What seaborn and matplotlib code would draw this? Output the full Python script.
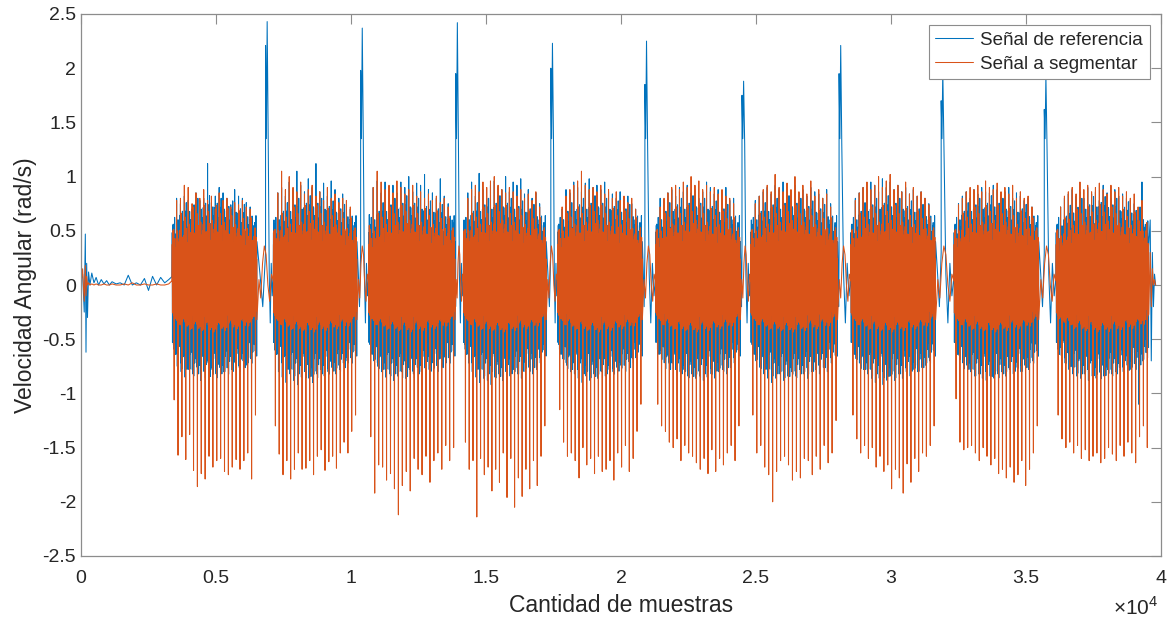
import numpy as np
import pandas as pd
import seaborn as sns
import matplotlib
matplotlib.use("Agg")
import matplotlib.pyplot as plt
from matplotlib.ticker import FuncFormatter, MultipleLocator

# burst limits and the spikes of the reference signal between bursts (samples)
burst_start = [3370, 7120, 10650, 14160, 17650, 21280, 24800, 28510, 32330, 36110]
burst_end = [6525, 10230, 13865, 17240, 20800, 24430, 28030, 31660, 35480, 39555]
spike_x = [6895, 10417, 13939, 17461, 20945, 24541, 28137, 31918, 35737]
spike_peak = [2.43, 2.37, 2.42, 2.23, 2.25, 1.88, 2.21, 1.98, 1.93]
spike_shoulder = [2.21, 1.98, 1.95, 2.0, 1.85, 1.75, 1.95, 1.70, 1.62]

# per cycle extremes of "Señal a segmentar" (orange)
orange_low = [
    [-1.06, -1.57, -1.40, -1.61, -1.38, -1.71, -1.86, -1.74, -1.79, -1.58, -1.68, -1.62, -1.60, -1.72, -1.75, -1.68, -1.61, -1.70, -1.62, -1.55, -1.79, -1.20],
    [-1.30, -1.56, -1.75, -1.62, -1.79, -1.70, -1.55, -1.70, -1.69, -1.62, -1.75, -1.58, -1.52, -1.71, -1.63, -1.58, -1.69, -1.55, -1.45, -1.55, -1.35, -1.20],
    [-1.40, -1.92, -1.66, -1.68, -1.80, -1.74, -1.88, -2.12, -1.85, -1.72, -1.90, -1.60, -1.70, -1.75, -1.58, -1.82, -1.62, -1.55, -1.70, -1.48, -1.62, -1.50],
    [-1.45, -1.70, -1.62, -2.14, -1.60, -1.75, -1.68, -1.90, -1.70, -1.82, -1.55, -1.96, -1.60, -2.05, -1.78, -1.95, -1.70, -1.88, -1.62, -1.85, -1.58, -1.30],
    [-1.15, -1.45, -1.58, -1.55, -1.62, -1.78, -1.50, -1.66, -1.60, -1.74, -1.58, -1.72, -1.70, -1.62, -1.80, -1.55, -1.68, -1.48, -1.72, -1.60, -1.35, -1.10],
    [-1.10, -1.30, -1.35, -1.45, -1.50, -1.42, -1.62, -1.48, -1.55, -1.58, -1.64, -1.70, -1.60, -1.74, -1.52, -1.72, -1.60, -1.66, -1.55, -1.48, -1.62, -1.30],
    [-1.20, -1.55, -1.48, -1.68, -1.75, -2.00, -1.72, -1.62, -1.58, -1.66, -1.80, -1.72, -1.78, -1.60, -1.62, -1.75, -1.58, -1.70, -1.48, -1.64, -1.55, -1.25],
    [-1.20, -1.42, -1.55, -1.48, -1.60, -1.50, -1.68, -1.58, -1.72, -1.66, -1.88, -1.70, -1.78, -1.92, -1.65, -1.82, -1.60, -1.72, -1.55, -1.58, -1.48, -1.30],
    [-1.05, -1.45, -1.52, -1.50, -1.48, -1.55, -1.62, -1.50, -1.58, -1.66, -1.60, -1.74, -1.70, -1.78, -1.68, -1.82, -1.75, -1.62, -1.85, -1.70, -1.55, -1.30],
    [-1.20, -1.42, -1.50, -1.45, -1.55, -1.48, -1.60, -1.52, -1.62, -1.58, -1.55, -1.64, -1.60, -1.50, -1.56, -1.62, -1.48, -1.58, -1.45, -1.55, -1.64, -1.40, -1.30, -1.50],
]
orange_high = [
    [0.50, 0.78, 0.80, 0.92, 0.90, 0.75, 0.85, 0.80, 0.88, 0.78, 0.82, 0.70, 0.85, 0.78, 0.80, 0.72, 0.76, 0.74, 0.78, 0.72, 0.70, 0.45],
    [0.50, 0.85, 1.05, 0.88, 1.00, 0.90, 0.86, 0.95, 0.84, 0.88, 0.92, 0.82, 0.86, 0.78, 0.90, 0.80, 0.84, 0.76, 0.80, 0.78, 0.72, 0.50],
    [0.55, 0.90, 1.05, 0.95, 0.88, 0.92, 0.85, 0.96, 0.90, 0.84, 0.88, 0.92, 0.82, 0.86, 0.80, 0.84, 0.78, 0.82, 0.76, 0.80, 0.72, 0.50],
    [0.50, 0.80, 0.88, 0.92, 0.86, 0.95, 0.90, 0.96, 1.00, 0.92, 0.88, 0.85, 0.90, 0.86, 0.82, 0.88, 0.80, 0.84, 0.78, 0.86, 0.72, 0.50],
    [0.50, 0.72, 0.82, 0.88, 0.92, 0.96, 1.05, 0.92, 0.88, 0.90, 0.86, 0.92, 0.84, 0.88, 0.80, 0.86, 0.78, 0.82, 0.76, 0.80, 0.70, 0.50],
    [0.50, 0.72, 0.80, 0.85, 0.90, 0.92, 0.88, 0.95, 0.90, 1.00, 0.92, 0.96, 0.88, 0.92, 0.86, 0.90, 0.84, 0.88, 0.82, 0.80, 0.75, 0.50],
    [0.50, 0.75, 0.82, 0.88, 0.92, 0.86, 1.02, 0.90, 0.86, 0.94, 0.88, 1.00, 0.86, 0.92, 0.84, 0.96, 0.82, 0.88, 0.80, 0.84, 0.72, 0.50],
    [0.50, 0.78, 0.85, 0.90, 0.95, 0.88, 0.92, 1.00, 0.90, 0.96, 1.02, 0.88, 0.92, 0.86, 0.95, 0.84, 0.90, 0.82, 0.86, 0.80, 0.74, 0.50],
    [0.50, 0.74, 0.80, 0.86, 0.90, 0.88, 0.92, 0.86, 0.96, 0.90, 0.88, 0.94, 0.86, 0.90, 0.84, 0.92, 0.80, 0.86, 0.80, 0.82, 0.72, 0.50],
    [0.50, 0.72, 0.82, 0.86, 0.90, 0.84, 0.95, 0.88, 0.92, 0.86, 0.90, 0.94, 0.88, 0.84, 0.92, 0.86, 0.90, 0.82, 0.86, 0.80, 0.84, 0.72, 0.78, 0.50],
]

# per cycle extremes of "Señal de referencia" (blue)
blue_high = [
    [0.55, 0.80, 0.75, 0.82, 0.78, 0.70, 0.85, 0.78, 0.80, 1.12, 0.76, 0.82, 0.90, 0.85, 0.80, 0.74, 0.88, 0.82, 0.80, 0.76, 0.72, 0.55],
    [0.60, 0.85, 0.90, 0.82, 0.95, 0.88, 1.05, 0.92, 0.86, 0.98, 0.90, 1.12, 0.86, 0.94, 0.82, 0.96, 0.88, 0.80, 0.84, 0.78, 0.70, 0.55],
    [0.65, 0.90, 0.96, 0.85, 0.95, 0.88, 0.92, 0.85, 0.95, 0.90, 1.00, 0.86, 0.94, 0.92, 1.02, 0.88, 0.85, 0.80, 0.98, 0.82, 0.75, 0.60],
    [0.60, 0.85, 0.95, 0.82, 1.03, 0.88, 0.80, 0.92, 0.96, 0.90, 0.88, 1.00, 0.86, 0.95, 0.92, 0.98, 0.84, 0.88, 0.80, 0.85, 0.75, 0.55],
    [0.55, 0.70, 0.88, 0.85, 0.95, 0.90, 0.86, 0.94, 0.98, 0.90, 0.92, 0.88, 0.95, 0.86, 0.84, 0.80, 0.86, 0.78, 0.82, 0.75, 0.70, 0.55],
    [0.55, 0.80, 0.78, 0.85, 0.88, 0.82, 0.90, 0.86, 0.92, 0.85, 0.88, 0.80, 0.86, 0.95, 0.90, 0.84, 0.88, 0.82, 0.90, 0.78, 0.80, 0.55],
    [0.60, 0.78, 0.82, 0.86, 0.90, 0.84, 0.92, 0.88, 0.95, 0.90, 0.86, 0.92, 0.85, 0.88, 0.82, 0.90, 0.86, 0.84, 0.80, 0.88, 0.75, 0.55],
    [0.55, 0.80, 0.85, 0.90, 0.88, 0.95, 0.92, 0.86, 0.98, 0.90, 0.95, 0.88, 0.92, 0.86, 0.90, 0.84, 0.88, 0.82, 0.86, 0.80, 0.75, 0.55],
    [0.55, 0.75, 0.82, 0.86, 0.80, 0.88, 0.84, 0.90, 0.86, 0.85, 0.92, 0.88, 0.82, 0.86, 0.90, 0.80, 0.85, 0.82, 0.78, 0.80, 0.72, 0.55],
    [0.55, 0.72, 0.80, 0.84, 0.88, 0.82, 0.86, 0.80, 0.90, 0.84, 0.86, 0.78, 0.92, 0.85, 0.80, 0.88, 0.82, 0.84, 0.80, 0.78, 0.75, 0.60, 0.95, 0.55],
]
blue_low = [
    [-0.55, -0.75, -0.80, -0.85, -0.78, -0.82, -0.75, -0.88, -0.80, -0.72, -0.78, -0.82, -0.76, -0.80, -0.74, -0.78, -0.72, -0.76, -0.70, -0.74, -0.68, -0.55],
    [-0.60, -0.80, -0.85, -0.90, -0.82, -0.88, -0.92, -0.85, -0.80, -0.86, -0.90, -0.82, -0.78, -0.84, -0.80, -0.76, -0.82, -0.78, -0.72, -0.70, -0.65, -0.55],
    [-0.55, -0.70, -0.75, -0.80, -0.85, -0.82, -0.88, -0.84, -0.80, -0.86, -0.78, -0.82, -0.76, -0.80, -0.74, -0.78, -0.72, -0.70, -0.68, -0.66, -0.62, -0.55],
    [-0.55, -0.72, -0.80, -0.85, -0.90, -0.86, -0.88, -0.92, -0.85, -0.82, -0.88, -0.80, -0.84, -0.78, -0.82, -0.86, -0.80, -0.76, -0.82, -0.78, -0.72, -0.60],
    [-0.55, -0.68, -0.74, -0.80, -0.82, -0.86, -0.90, -0.84, -0.88, -0.82, -0.86, -0.80, -0.84, -0.78, -0.80, -0.76, -0.74, -0.72, -0.70, -0.68, -0.65, -0.55],
    [-0.50, -0.60, -0.65, -0.70, -0.72, -0.76, -0.80, -0.78, -0.84, -0.82, -0.86, -0.84, -0.88, -0.85, -0.82, -0.86, -0.80, -0.78, -0.82, -0.76, -0.72, -0.60],
    [-0.55, -0.70, -0.76, -0.82, -0.86, -0.90, -0.86, -0.82, -0.88, -0.84, -0.80, -0.84, -0.78, -0.82, -0.86, -0.80, -0.78, -0.82, -0.76, -0.80, -0.72, -0.65],
    [-0.50, -0.68, -0.72, -0.78, -0.82, -0.86, -0.90, -0.86, -0.92, -0.88, -0.84, -0.88, -0.82, -0.86, -0.80, -0.84, -0.78, -0.80, -0.76, -0.74, -0.70, -0.60],
    [-0.50, -0.65, -0.70, -0.74, -0.80, -0.84, -0.82, -0.86, -0.88, -0.84, -0.86, -0.82, -0.80, -0.84, -0.78, -0.82, -0.76, -0.80, -0.74, -0.78, -0.70, -0.60],
    [-0.50, -0.65, -0.72, -0.78, -0.82, -0.84, -0.86, -0.82, -0.88, -0.84, -0.86, -0.80, -0.84, -0.78, -0.82, -0.80, -0.76, -0.80, -0.74, -0.78, -0.72, -1.10, -0.70, -0.60],
]

# shapes of one cycle inside a burst ("H" / "L" = the cycle extremes above), used in turn
orange_cycles = [
    [0.05, 0.48, -0.33, "H", -0.28, 0.40, -0.36, 0.66, -0.22, "L", 0.38, -0.30, 0.55, -0.27, 0.30, -0.40],
    [0.10, 0.40, -0.26, "H", -0.38, 0.52, -0.30, 0.58, -0.35, "L", 0.46, -0.24, 0.36, -0.42, 0.50, -0.30],
    [0.00, 0.55, -0.40, "H", -0.22, 0.44, -0.28, 0.72, -0.30, "L", 0.32, -0.36, 0.48, -0.20, 0.42, -0.34],
]
blue_cycles = [
    [0.10, 0.62, -0.68, "H", -0.60, 0.72, "L", 0.50, -0.76, 0.58, -0.55, 0.80, -0.70, 0.35, -0.82, 0.50],
    [0.20, 0.55, -0.74, "H", -0.52, 0.66, "L", 0.58, -0.64, 0.70, -0.80, 0.48, -0.66, 0.62, -0.58, 0.40],
    [0.00, 0.70, -0.62, "H", -0.78, 0.58, "L", 0.64, -0.70, 0.50, -0.84, 0.74, -0.56, 0.55, -0.72, 0.45],
]
# how wide the dense core is from the start to the end of a burst
core_env = [0.78, 0.86, 0.92, 0.95, 0.97, 1.0, 1.0, 1.0, 1.02, 1.03, 1.03, 1.02, 1.0, 1.0, 0.98,
            0.97, 0.96, 0.95, 0.93, 0.9, 0.86, 0.8]

# quiet part before the first burst and the tail after the last one
pre_x = [0, 60, 120, 160, 185, 210, 240, 280, 330, 400, 480, 560, 650, 750, 850, 950, 1050, 1150,
         1300, 1450, 1600, 1750, 1900, 2050, 2200, 2350, 2500, 2650, 2800, 2950, 3100, 3250]
pre_blue = [0.05, 0.10, -0.25, 0.47, -0.62, 0.20, -0.30, 0.12, 0.0, 0.11, 0.02, 0.07, 0.0, 0.05, 0.01, 0.04,
            0.0, 0.03, 0.01, 0.02, 0.0, 0.09, 0.0, 0.02, 0.0, 0.06, -0.05, 0.08, 0.0, 0.07, 0.02, 0.05]
pre_orange = [0.0, 0.15, -0.15, 0.18, -0.10, 0.08, 0.0, 0.02, 0.0, 0.01, 0.0, 0.01, 0.0, 0.0, 0.01, 0.0,
              0.0, 0.01, 0.0, 0.0, 0.01, 0.0, 0.02, 0.0, 0.0, 0.01, 0.0, 0.0, 0.01, 0.0, 0.0, 0.01]
tail_x = [39600, 39640, 39680, 39720, 39760, 39800]
tail_blue = [0.60, -0.70, 0.30, -0.20, 0.10, 0.0]
tail_orange = [0.30, -0.20, 0.15, 0.0, 0.05, 0.0]

# gaps between bursts
gap_orange = [0.05, -0.12, 0.20, 0.36, 0.28, 0.0, -0.15, 0.10]
gap_blue_before = [0.10, -0.20, 0.30]
gap_blue_after = [1.30, 0.10, -0.35, 0.20, -0.10]


def burst(start, end, highs, lows, cycles):
    n = len(highs)
    xs = np.linspace(start, end, n * len(cycles[0]), endpoint=False)
    ys = []
    for k, (h, l) in enumerate(zip(highs, lows)):
        env = core_env[k * len(core_env) // n]
        for v in cycles[k % len(cycles)]:
            ys.append(h if v == "H" else l if v == "L" else v * env)
    return list(xs), ys


ox, oy = list(pre_x), list(pre_orange)
bx, by = list(pre_x), list(pre_blue)
for i in range(len(burst_start)):
    x, y = burst(burst_start[i], burst_end[i], orange_high[i], orange_low[i], orange_cycles)
    ox += x
    oy += y
    x, y = burst(burst_start[i], burst_end[i], blue_high[i], blue_low[i], blue_cycles)
    bx += x
    by += y
    if i < len(spike_x):
        g0, g1 = burst_end[i], burst_start[i + 1]
        ox += list(np.linspace(g0, g1, len(gap_orange) + 2)[1:-1])
        oy += gap_orange
        bx += list(np.linspace(g0, spike_x[i] - 60, len(gap_blue_before) + 1)[1:])
        by += gap_blue_before
        bx += [spike_x[i] - 60, spike_x[i] - 30, spike_x[i]]
        by += [spike_shoulder[i], 1.35, spike_peak[i]]
        bx += list(np.linspace(spike_x[i] + 40, g1, len(gap_blue_after) + 1)[:-1])
        by += gap_blue_after
ox += tail_x
oy += tail_orange
bx += tail_x
by += tail_blue

ref = pd.DataFrame({"x": bx, "y": by})
seg = pd.DataFrame({"x": ox, "y": oy})

sns.set_style("white")
plt.rcParams["font.family"] = ["Liberation Sans", "DejaVu Sans"]
plt.rcParams["mathtext.fontset"] = "custom"
plt.rcParams["mathtext.rm"] = "Liberation Sans"

fig = plt.figure(figsize=(11.73, 6.23), dpi=100)
ax = fig.add_axes([81 / 1173, 67 / 623, 1080 / 1173, 542 / 623])

sns.lineplot(data=ref, x="x", y="y", ax=ax, estimator=None, sort=False,
             color="#0072BD", lw=0.75, label="Señal de referencia")
sns.lineplot(data=seg, x="x", y="y", ax=ax, estimator=None, sort=False,
             color="#D95319", lw=0.75, label="Señal a segmentar")

ax.set_xlim(0, 40000)
ax.set_ylim(-2.5, 2.5)
ax.xaxis.set_major_locator(MultipleLocator(5000))
ax.yaxis.set_major_locator(MultipleLocator(0.5))
ax.xaxis.set_major_formatter(FuncFormatter(lambda v, p: f"{v / 1e4:g}"))
ax.yaxis.set_major_formatter(FuncFormatter(lambda v, p: f"{v:g}"))
ax.tick_params(direction="in", length=7, width=0.8, colors="#8c8c8c",
               labelcolor="#262626", labelsize=14, top=True, right=True)
ax.tick_params(axis="x", pad=10)
for s in ax.spines.values():
    s.set_color("#8c8c8c")
    s.set_linewidth(0.9)

ax.set_xlabel("Cantidad de muestras", fontsize=16.5, color="#262626", labelpad=5)
ax.set_ylabel("Velocidad Angular (rad/s)", fontsize=16.5, color="#262626", labelpad=4)
fig.text(1158 / 1173, 4 / 623, r"$\times10^{4}$", ha="right", va="bottom",
         fontsize=15, color="#262626")

leg = ax.legend(loc="upper right", fontsize=13.5, frameon=True, fancybox=False,
                edgecolor="#8c8c8c", framealpha=1, borderaxespad=0.6,
                handlelength=2.0, handletextpad=0.4, borderpad=0.35, labelspacing=0.35)
leg.get_frame().set_linewidth(0.8)
for t in leg.get_texts():
    t.set_color("#262626")

fig.savefig("out.png", dpi=100)
